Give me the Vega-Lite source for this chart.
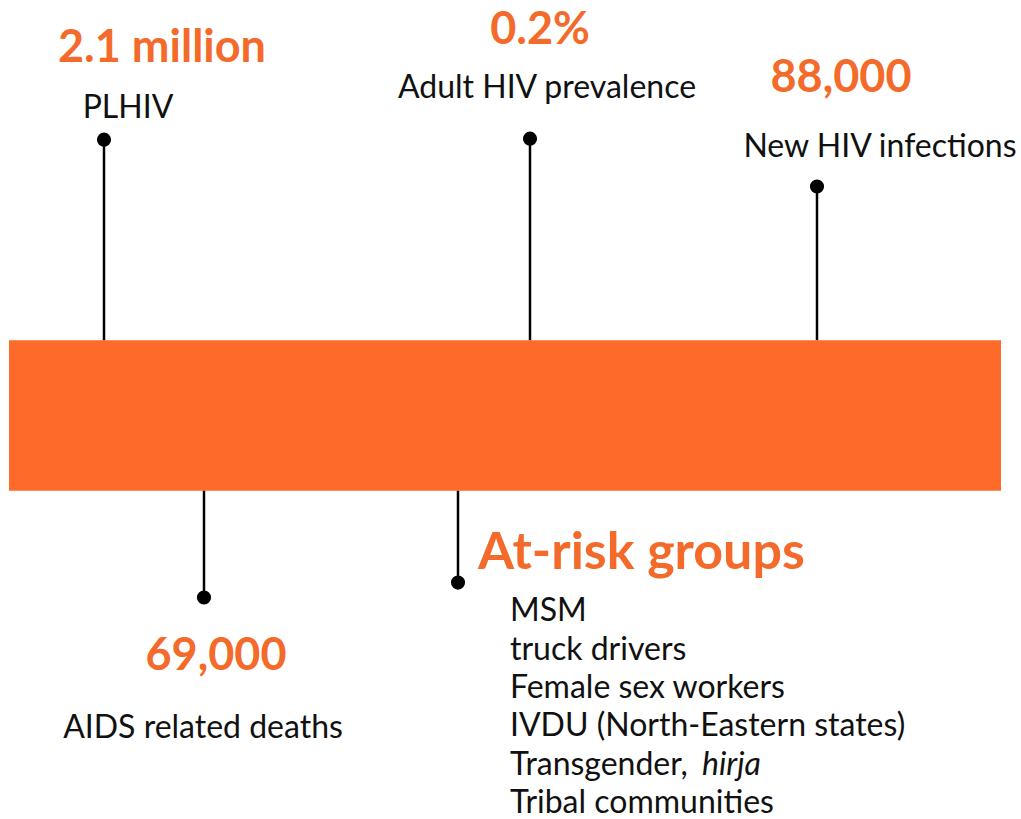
{
  "$schema": "https://vega.github.io/schema/vega-lite/v6.json",
  "width": 1021,
  "height": 819,
  "autosize": {"type": "fit", "contains": "padding"},
  "padding": 0,
  "background": "white",
  "config": {"view": {"stroke": null}},
  "datasets": {
    "bar": [{"x0": 9, "x1": 1001, "y0": 341, "y1": 492}],
    "stems": [
      {"name": "PLHIV", "x": 104, "dot": 140, "edge": 341},
      {"name": "Adult HIV prevalence", "x": 530, "dot": 139, "edge": 341},
      {"name": "New HIV infections", "x": 817, "dot": 187, "edge": 341},
      {"name": "AIDS related deaths", "x": 204, "dot": 599, "edge": 492},
      {"name": "At-risk groups", "x": 458, "dot": 584, "edge": 492}
    ],
    "texts": [
      {"text": "2.1 million", "role": "value", "x": 162, "y": 62},
      {"text": "PLHIV", "role": "label", "x": 128, "y": 118},
      {"text": "0.2%", "role": "value", "x": 540, "y": 44},
      {"text": "Adult HIV prevalence", "role": "label", "x": 547, "y": 98},
      {"text": "88,000", "role": "value", "x": 841, "y": 92},
      {"text": "New HIV infections", "role": "label", "x": 880, "y": 157},
      {"text": "69,000", "role": "value", "x": 216, "y": 672},
      {"text": "AIDS related deaths", "role": "label", "x": 203, "y": 740},
      {"text": "At-risk groups", "role": "heading", "x": 478, "y": 570},
      {"text": "MSM", "role": "item", "x": 510, "y": 623},
      {"text": "truck drivers", "role": "item", "x": 510, "y": 662},
      {"text": "Female sex workers", "role": "item", "x": 510, "y": 700},
      {"text": "IVDU (North-Eastern states)", "role": "item", "x": 510, "y": 738},
      {"text": "Transgender,", "role": "item", "x": 510, "y": 777},
      {"text": "hirja", "role": "italic", "x": 702, "y": 777},
      {"text": "Tribal communities", "role": "item", "x": 510, "y": 815}
    ]
  },
  "layer": [
    {
      "data": {"name": "bar"},
      "mark": {"type": "rect", "color": "#FE6A2A"},
      "encoding": {
        "x": {"field": "x0", "type": "quantitative", "scale": {"domain": [0, 1021], "nice": false, "zero": false}, "axis": null},
        "x2": {"field": "x1"},
        "y": {"field": "y0", "type": "quantitative", "scale": {"domain": [819, 0], "nice": false, "zero": false}, "axis": null},
        "y2": {"field": "y1"}
      }
    },
    {
      "data": {"name": "stems"},
      "mark": {"type": "rule", "color": "#000000", "strokeWidth": 2.5},
      "encoding": {
        "x": {"field": "x", "type": "quantitative"},
        "y": {"field": "dot", "type": "quantitative"},
        "y2": {"field": "edge"}
      }
    },
    {
      "data": {"name": "stems"},
      "mark": {"type": "circle", "color": "#000000", "opacity": 1, "size": 200},
      "encoding": {
        "x": {"field": "x", "type": "quantitative"},
        "y": {"field": "dot", "type": "quantitative"}
      }
    },
    {
      "data": {"name": "texts"},
      "transform": [{"filter": "datum.role === 'value'"}],
      "mark": {"type": "text", "font": "Lato", "fontWeight": "bold", "fontSize": 45, "color": "#F46A2B", "align": "center", "baseline": "alphabetic"},
      "encoding": {
        "x": {"field": "x", "type": "quantitative"},
        "y": {"field": "y", "type": "quantitative"},
        "text": {"field": "text"}
      }
    },
    {
      "data": {"name": "texts"},
      "transform": [{"filter": "datum.role === 'label'"}],
      "mark": {"type": "text", "font": "Lato", "fontSize": 32, "color": "#111111", "align": "center", "baseline": "alphabetic"},
      "encoding": {
        "x": {"field": "x", "type": "quantitative"},
        "y": {"field": "y", "type": "quantitative"},
        "text": {"field": "text"}
      }
    },
    {
      "data": {"name": "texts"},
      "transform": [{"filter": "datum.role === 'heading'"}],
      "mark": {"type": "text", "font": "Lato", "fontWeight": "bold", "fontSize": 52, "color": "#F46A2B", "align": "left", "baseline": "alphabetic"},
      "encoding": {
        "x": {"field": "x", "type": "quantitative"},
        "y": {"field": "y", "type": "quantitative"},
        "text": {"field": "text"}
      }
    },
    {
      "data": {"name": "texts"},
      "transform": [{"filter": "datum.role === 'item'"}],
      "mark": {"type": "text", "font": "Lato", "fontSize": 32, "color": "#111111", "align": "left", "baseline": "alphabetic"},
      "encoding": {
        "x": {"field": "x", "type": "quantitative"},
        "y": {"field": "y", "type": "quantitative"},
        "text": {"field": "text"}
      }
    },
    {
      "data": {"name": "texts"},
      "transform": [{"filter": "datum.role === 'italic'"}],
      "mark": {"type": "text", "font": "Lato", "fontStyle": "italic", "fontSize": 32, "color": "#111111", "align": "left", "baseline": "alphabetic"},
      "encoding": {
        "x": {"field": "x", "type": "quantitative"},
        "y": {"field": "y", "type": "quantitative"},
        "text": {"field": "text"}
      }
    }
  ]
}
